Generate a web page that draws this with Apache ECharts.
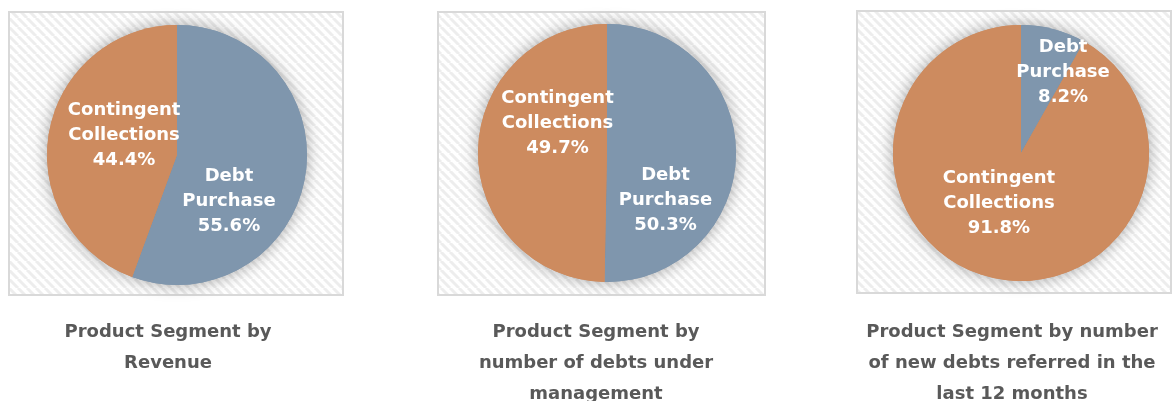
<!DOCTYPE html>
<html>
<head>
<meta charset="utf-8">
<script src="https://cdn.jsdelivr.net/npm/echarts@6/dist/echarts.min.js"></script>
<style>
  html, body { margin: 0; padding: 0; background: #fff; }
  #main { width: 1172px; height: 401px; }
</style>
</head>
<body>
<div id="main"></div>
<script>
const categories = ["Debt Purchase", "Contingent Collections"];
const revenueShare = [55.6, 44.4];
const debtsUnderMgmtShare = [50.3, 49.7];
const newDebtsShare = [8.2, 91.8];
const captions = [
  "Product Segment by\nRevenue",
  "Product Segment by\nnumber of debts under\nmanagement",
  "Product Segment by number\nof new debts referred in the\nlast 12 months",
];

const colors = ["#7f96ad", "#cd8b5f"];
const font = "DejaVu Sans";

// layout of the three panels
const panels = [
  { box: [9, 12, 334, 283], center: [177, 155], r: 130, cap: 163,
    offsets: [[-15, 34], [14, -8]] },
  { box: [438, 12, 327, 283], center: [607, 153], r: 129, cap: 591,
    offsets: [[-9, 47], [18, -29]] },
  { box: [857, 11, 314, 282], center: [1021, 153], r: 128, cap: 1007,
    offsets: [[25, -16], [-5, -14]] },
];
const shares = [revenueShare, debtsUnderMgmtShare, newDebtsShare];

// diagonal hatch pattern for the panel background
const hatch = document.createElement("canvas");
hatch.width = 9;
hatch.height = 9;
(function () {
  const ctx = hatch.getContext("2d");
  ctx.fillStyle = "#ffffff";
  ctx.fillRect(0, 0, 9, 9);
  ctx.strokeStyle = "#ededed";
  ctx.lineWidth = 3;
  for (let k = -9; k <= 18; k += 9) {
    ctx.beginPath();
    ctx.moveTo(k, 0);
    ctx.lineTo(k + 9, 9);
    ctx.stroke();
  }
})();

const series = [];
panels.forEach((p, i) => {
  const values = shares[i];
  // soft shadow under the pie
  series.push({
    type: "pie",
    silent: true,
    center: p.center,
    radius: p.r,
    startAngle: 90,
    label: { show: false },
    labelLine: { show: false },
    itemStyle: { shadowBlur: 16, shadowColor: "rgba(0,0,0,0.35)" },
    color: colors,
    data: categories.map((c, j) => ({ name: c, value: values[j] })),
  });
  series.push({
    type: "pie",
    silent: true,
    center: p.center,
    radius: p.r,
    startAngle: 90,
    color: colors,
    labelLine: { show: false },
    label: {
      show: true,
      position: "inside",
      color: "#fff",
      fontFamily: font,
      fontWeight: "bold",
      fontSize: 18,
      lineHeight: 25,
      formatter: (d) => d.name.replace(" ", "\n") + "\n" + d.value.toFixed(1) + "%",
    },
    data: categories.map((c, j) => ({
      name: c,
      value: values[j],
      label: { offset: p.offsets[j] },
    })),
  });
});

const graphics = panels.map((p) => ({
  type: "rect",
  z: -10,
  shape: { x: p.box[0], y: p.box[1], width: p.box[2], height: p.box[3] },
  style: { fill: { image: hatch, repeat: "repeat" }, stroke: "#d9d9d9", lineWidth: 2 },
}));

const titles = panels.map((p, i) => ({
  text: captions[i],
  left: p.cap,
  top: 312,
  textAlign: "center",
  textStyle: {
    fontFamily: font,
    fontWeight: "bold",
    fontSize: 18,
    lineHeight: 31,
    color: "#595959",
  },
}));

const chart = echarts.init(document.getElementById("main"));
chart.setOption({
  animation: false,
  backgroundColor: "#fff",
  title: titles,
  graphic: graphics,
  series: series,
});
</script>
</body>
</html>
